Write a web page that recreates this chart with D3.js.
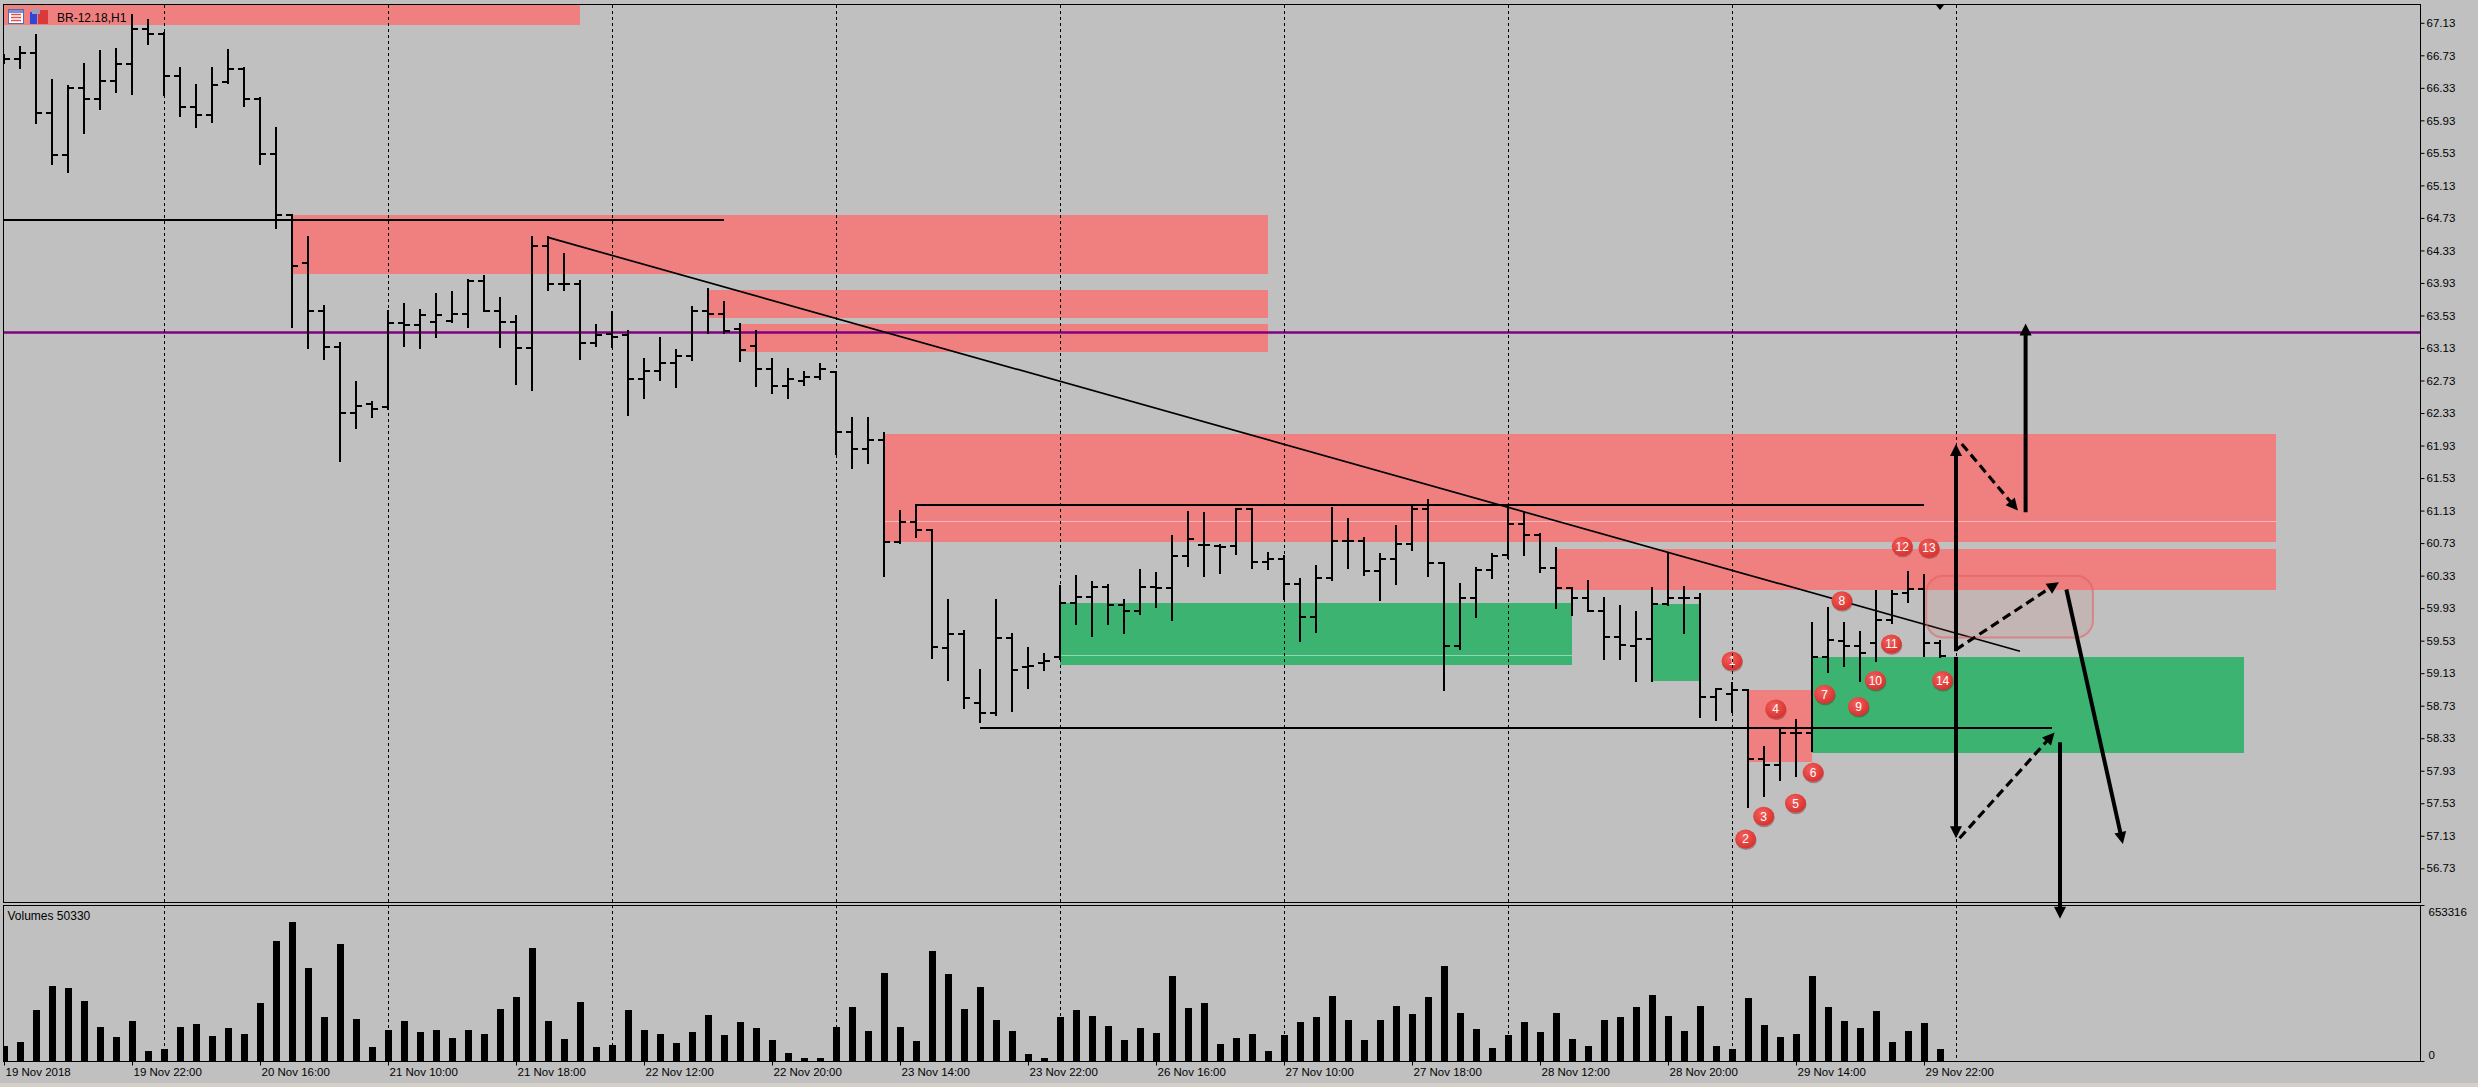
<!DOCTYPE html>
<html>
<head>
<meta charset="utf-8">
<script src="https://cdn.jsdelivr.net/npm/d3@7"></script>
<style>
html, body { margin: 0; padding: 0; background: #c0c0c0; overflow: hidden; }
svg { display: block; }
text { font-family: "Liberation Sans", Arial, sans-serif; }
</style>
</head>
<body>
<svg id="chart"></svg>
<script>
// BR-12.18 H1 bars, 19 Nov 14:00 .. 29 Nov 23:00
var opens = [
  66.69, 66.69, 66.76, 66.02, 65.50, 66.33, 66.19, 66.41, 66.62, 67.05,
  66.99, 66.47, 66.09, 65.99, 66.40, 66.56, 66.19, 65.52, 64.77, 64.18,
  63.59, 63.14, 62.33, 62.44, 62.40, 63.44, 63.41, 63.45, 63.46, 63.55,
  63.96, 63.59, 63.45, 63.13, 64.39, 63.92, 63.92, 63.19, 63.30, 63.29,
  62.75, 62.85, 62.94, 63.03, 63.59, 63.55, 63.36, 63.15, 62.87, 62.66,
  62.72, 62.77, 62.84, 62.10, 61.89, 62.00, 60.74, 60.99, 60.89, 59.44,
  59.61, 58.76, 58.64, 59.56, 59.21, 59.25, 59.33, 59.99, 60.07, 60.19,
  59.97, 59.89, 60.19, 60.18, 60.57, 60.71, 60.69, 60.69, 61.15, 60.50,
  60.53, 60.23, 59.82, 60.30, 60.75, 60.76, 60.39, 60.53, 60.72, 61.15,
  60.48, 59.47, 60.05, 60.40, 60.58, 60.96, 60.83, 60.42, 60.18, 60.06,
  59.90, 59.58, 59.47, 59.55, 59.98, 60.06, 60.06, 58.84, 58.88, 58.92,
  58.07, 58.00, 58.40, 58.40, 59.33, 59.52, 59.46, 59.50, 59.79, 60.12,
  60.17, 59.50
];
var highs = [
  66.74, 66.83, 66.98, 66.43, 66.35, 66.62, 66.78, 66.81, 67.23, 67.16,
  67.00, 66.58, 66.36, 66.57, 66.80, 66.57, 66.21, 65.83, 64.77, 64.50,
  63.65, 63.19, 62.71, 62.46, 63.59, 63.67, 63.60, 63.79, 63.82, 63.97,
  64.01, 63.74, 63.52, 64.50, 64.49, 64.28, 63.95, 63.41, 63.57, 63.34,
  62.99, 63.25, 63.10, 63.64, 63.85, 63.69, 63.43, 63.34, 62.99, 62.87,
  62.84, 62.93, 62.84, 62.27, 62.27, 62.08, 61.13, 61.20, 60.89, 60.03,
  59.65, 59.17, 60.03, 59.61, 59.44, 59.37, 60.20, 60.33, 60.25, 60.21,
  60.03, 60.40, 60.36, 60.82, 61.11, 61.10, 60.71, 61.15, 61.15, 60.61,
  60.57, 60.29, 60.45, 61.16, 61.03, 60.79, 60.59, 60.94, 61.17, 61.26,
  60.48, 60.23, 60.42, 60.59, 61.19, 61.10, 60.84, 60.67, 60.18, 60.26,
  60.06, 59.96, 59.88, 60.18, 60.61, 60.19, 60.10, 58.94, 59.01, 58.92,
  58.22, 58.43, 58.56, 59.75, 59.93, 59.75, 59.64, 60.14, 60.14, 60.38,
  60.34, 59.53
];
var lows = [
  66.64, 66.57, 65.90, 65.39, 65.29, 65.77, 66.07, 66.28, 66.25, 66.87,
  66.24, 65.98, 65.85, 65.91, 66.39, 66.11, 65.39, 64.60, 63.39, 63.13,
  63.00, 61.74, 62.14, 62.28, 62.38, 63.15, 63.13, 63.26, 63.45, 63.39,
  63.58, 63.14, 62.69, 62.61, 63.84, 63.84, 63.00, 63.16, 63.14, 62.31,
  62.51, 62.74, 62.65, 62.98, 63.32, 63.31, 62.97, 62.66, 62.58, 62.51,
  62.68, 62.75, 61.82, 61.65, 61.72, 60.33, 60.73, 60.81, 59.32, 59.05,
  58.70, 58.53, 58.62, 58.67, 58.95, 59.17, 59.30, 59.74, 59.59, 59.73,
  59.63, 59.86, 59.94, 59.79, 60.45, 60.32, 60.36, 60.60, 60.42, 60.41,
  60.04, 59.52, 59.64, 60.28, 60.42, 60.34, 60.03, 60.23, 60.65, 60.32,
  58.92, 59.43, 59.82, 60.30, 60.55, 60.58, 60.38, 59.93, 59.85, 59.90,
  59.30, 59.30, 59.04, 59.03, 59.97, 59.62, 58.59, 58.55, 58.65, 57.49,
  57.62, 57.82, 57.86, 58.17, 59.14, 59.22, 59.04, 59.28, 59.75, 60.00,
  59.34, 59.33
];
var closes = [
  66.69, 66.76, 66.02, 65.50, 66.33, 66.19, 66.41, 66.62, 67.05, 66.99,
  66.47, 66.09, 65.99, 66.36, 66.56, 66.19, 65.52, 64.77, 64.14, 63.59,
  63.14, 62.33, 62.42, 62.38, 63.44, 63.41, 63.53, 63.54, 63.55, 63.96,
  63.59, 63.45, 63.13, 64.39, 63.92, 63.92, 63.19, 63.29, 63.27, 62.75,
  62.85, 62.94, 63.03, 63.59, 63.55, 63.34, 63.11, 62.87, 62.66, 62.75,
  62.77, 62.87, 62.10, 61.89, 62.00, 60.74, 60.99, 60.89, 59.45, 59.61,
  58.82, 58.64, 59.56, 59.17, 59.22, 59.28, 59.99, 60.07, 60.19, 59.97,
  59.89, 60.19, 60.18, 60.57, 60.78, 60.71, 60.68, 61.15, 60.50, 60.53,
  60.23, 59.82, 60.30, 60.75, 60.76, 60.39, 60.53, 60.72, 61.15, 60.48,
  59.47, 60.05, 60.40, 60.57, 60.96, 60.83, 60.42, 60.18, 60.06, 59.90,
  59.58, 59.48, 59.55, 59.98, 60.06, 60.06, 58.84, 58.93, 58.92, 58.07,
  58.00, 58.40, 58.40, 59.33, 59.54, 59.46, 59.38, 59.79, 60.10, 60.17,
  59.50, 59.34
];
var volumes = [
  64000, 80000, 215000, 316000, 304000, 252000, 142000, 101000, 169000, 42000,
  50000, 144000, 157000, 105000, 138000, 113000, 244000, 504000, 582000, 391000,
  183000, 492000, 174000, 60000, 129000, 166000, 121000, 129000, 97000, 129000,
  113000, 219000, 268000, 473000, 166000, 93000, 248000, 60000, 68000, 215000,
  129000, 113000, 76000, 121000, 191000, 109000, 162000, 138000, 89000, 35000,
  11000, 11000, 142000, 228000, 125000, 367000, 142000, 85000, 461000, 363000,
  219000, 309000, 170000, 125000, 31000, 11000, 183000, 215000, 187000, 146000,
  89000, 138000, 117000, 354000, 224000, 244000, 72000, 97000, 113000, 40000,
  109000, 162000, 183000, 273000, 170000, 89000, 170000, 232000, 195000, 268000,
  399000, 199000, 134000, 56000, 109000, 162000, 121000, 199000, 93000, 64000,
  170000, 183000, 228000, 277000, 187000, 125000, 232000, 64000, 52000, 264000,
  150000, 101000, 113000, 358000, 228000, 166000, 138000, 211000, 80000, 125000,
  158000, 50330
];

var timeLabels = ["19 Nov 2018", "19 Nov 22:00", "20 Nov 16:00", "21 Nov 10:00",
  "21 Nov 18:00", "22 Nov 12:00", "22 Nov 20:00", "23 Nov 14:00", "23 Nov 22:00",
  "26 Nov 16:00", "27 Nov 10:00", "27 Nov 18:00", "28 Nov 12:00", "28 Nov 20:00",
  "29 Nov 14:00", "29 Nov 22:00"];
var labelBars = [0, 8, 16, 24, 32, 40, 48, 56, 64, 72, 80, 88, 96, 104, 112, 120];
var dayStarts = [10, 24, 38, 52, 66, 80, 94, 108, 122];
var priceTicks = [67.13, 66.73, 66.33, 65.93, 65.53, 65.13, 64.73, 64.33, 63.93,
  63.53, 63.13, 62.73, 62.33, 61.93, 61.53, 61.13, 60.73, 60.33, 59.93, 59.53,
  59.13, 58.73, 58.33, 57.93, 57.53, 57.13, 56.73];
var volumeTicks = [653316, 0];

// drawn objects: [bar from, bar to, price 1, price 2]
var redZones = [
  [-2, 36, 67.60, 67.11],
  [18, 79, 64.77, 64.04],
  [44, 79, 63.84, 63.49],
  [46, 79, 63.43, 63.09],
  [55, 142, 62.07, 60.74],
  [97, 142, 60.66, 60.16],
  [109, 113, 58.92, 58.04]
];
var greenZones = [
  [66, 98, 59.99, 59.23],
  [103, 106, 59.98, 59.03],
  [113, 140, 59.33, 58.15]
];
var zoneEdges = [[55, 142, 61.00], [66, 98, 59.35]]; // [bar from, bar to, price]
var purpleLevel = 63.32;
var blackLevels = [[-2, 45, 64.70], [57, 120, 61.20], [61, 128, 58.45]];
var trendLine = [34, 64.49, 126, 59.40]; // bar, price, bar, price

var markers = [
  ["1", 108.0, 59.28], ["2", 108.85, 57.09], ["3", 109.98, 57.37], ["4", 110.73, 58.69],
  ["5", 111.97, 57.53], ["6", 113.07, 57.91], ["7", 113.79, 58.87], ["8", 114.87, 60.02],
  ["9", 115.91, 58.72], ["10", 116.96, 59.04], ["11", 117.96, 59.49], ["12", 118.64, 60.69],
  ["13", 120.31, 60.67], ["14", 121.16, 59.04]
];
// [bar from, price from, bar to, price to]
var solidArrows = [
  [122.0, 59.40, 122.0, 61.95],
  [122.0, 59.33, 122.0, 57.10],
  [126.35, 61.11, 126.35, 63.43],
  [128.9, 60.16, 132.43, 57.03],
  [128.5, 58.28, 128.5, 56.11]
];
var dashedArrows = [
  [122.36, 61.95, 125.87, 61.13],
  [122.0, 59.42, 128.43, 60.25],
  [122.22, 57.10, 128.16, 58.40]
];
var roundBox = [120.14, 60.33, 130.56, 59.57];

var W = 2478, H = 1087;
var chartLeft = 3, chartRight = 2420, chartTop = 4, priceBottom = 902,
  volTop = 905, volBottom = 1061;

var x = d3.scaleLinear().domain([0, 1]).range([4, 20]);
var y = d3.scaleLinear().domain([56.73, 67.13]).range([868.3, 22.8]);
var yv = d3.scaleLinear().domain([0, 653316]).range([volBottom, volTop]);

var svg = d3.select("#chart").attr("width", W).attr("height", H);
var defs = svg.append("defs");

defs.append("clipPath").attr("id", "priceClip").append("rect")
  .attr("x", chartLeft + 1).attr("y", chartTop + 1)
  .attr("width", chartRight - chartLeft - 1).attr("height", priceBottom - chartTop - 1);
defs.append("clipPath").attr("id", "volClip").append("rect")
  .attr("x", chartLeft + 1).attr("y", volTop + 1)
  .attr("width", chartRight - chartLeft - 1).attr("height", volBottom - volTop - 1);

var grad = defs.append("radialGradient").attr("id", "ball")
  .attr("cx", "40%").attr("cy", "35%").attr("r", "65%");
grad.append("stop").attr("offset", "0%").attr("stop-color", "#f2605c");
grad.append("stop").attr("offset", "100%").attr("stop-color", "#d8322f");

svg.append("rect").attr("width", W).attr("height", H).attr("fill", "#c0c0c0");
svg.append("rect").attr("x", 0).attr("y", 1083).attr("width", W).attr("height", 4).attr("fill", "#d4d0c8");

var price = svg.append("g").attr("clip-path", "url(#priceClip)");

// zones
price.selectAll("rect.red").data(redZones).enter().append("rect")
  .attr("class", "red")
  .attr("x", function(d){ return x(d[0]); })
  .attr("width", function(d){ return x(d[1]) - x(d[0]); })
  .attr("y", function(d){ return Math.round(y(Math.max(d[2], d[3]))); })
  .attr("height", function(d){ return Math.round(Math.abs(y(d[3]) - y(d[2]))); })
  .attr("fill", "#f08080");
price.selectAll("rect.green").data(greenZones).enter().append("rect")
  .attr("class", "green")
  .attr("x", function(d){ return x(d[0]); })
  .attr("width", function(d){ return x(d[1]) - x(d[0]); })
  .attr("y", function(d){ return Math.round(y(Math.max(d[2], d[3]))); })
  .attr("height", function(d){ return Math.round(Math.abs(y(d[3]) - y(d[2]))); })
  .attr("fill", "#3cb371");
price.selectAll("line.edge").data(zoneEdges).enter().append("line")
  .attr("x1", function(d){ return x(d[0]); })
  .attr("x2", function(d){ return x(d[1]); })
  .attr("y1", function(d){ return Math.round(y(d[2])) + 0.5; })
  .attr("y2", function(d){ return Math.round(y(d[2])) + 0.5; })
  .attr("stroke", "rgba(255,255,255,0.45)").attr("stroke-width", 1);

// day separators in both panels
svg.append("g").selectAll("line").data(dayStarts).enter().append("line")
  .attr("x1", function(d){ return x(d) + 0.5; })
  .attr("x2", function(d){ return x(d) + 0.5; })
  .attr("y1", chartTop + 1).attr("y2", volBottom)
  .attr("stroke", "#000").attr("stroke-width", 1).attr("stroke-dasharray", "3,3");

// levels and trend line
price.append("line")
  .attr("x1", chartLeft).attr("x2", chartRight)
  .attr("y1", y(purpleLevel)).attr("y2", y(purpleLevel))
  .attr("stroke", "#800080").attr("stroke-width", 2.5);
price.selectAll("line.level").data(blackLevels).enter().append("line")
  .attr("x1", function(d){ return x(d[0]); })
  .attr("x2", function(d){ return x(d[1]); })
  .attr("y1", function(d){ return Math.round(y(d[2])); })
  .attr("y2", function(d){ return Math.round(y(d[2])); })
  .attr("stroke", "#000").attr("stroke-width", 2);
price.append("line")
  .attr("x1", x(trendLine[0])).attr("y1", y(trendLine[1]))
  .attr("x2", x(trendLine[2])).attr("y2", y(trendLine[3]))
  .attr("stroke", "#000").attr("stroke-width", 1.7);

// OHLC bars
price.selectAll("path.bar").data(opens).enter().append("path")
  .attr("d", function(o, i){
    var bx = x(i);
    return "M" + bx + "," + (Math.round(y(highs[i])) - 1) + "V" + (Math.round(y(lows[i])) + 1) +
      "M" + (bx - 6) + "," + Math.round(y(o)) + "H" + bx +
      "M" + bx + "," + Math.round(y(closes[i])) + "H" + (bx + 6);
  })
  .attr("fill", "none").attr("stroke", "#000").attr("stroke-width", 2);

// rounded target box
price.append("rect")
  .attr("x", x(roundBox[0])).attr("y", y(roundBox[1]))
  .attr("width", x(roundBox[2]) - x(roundBox[0]))
  .attr("height", y(roundBox[3]) - y(roundBox[1]))
  .attr("rx", 17).attr("ry", 17)
  .attr("fill", "rgba(232,110,110,0.12)")
  .attr("stroke", "rgba(226,92,92,0.55)").attr("stroke-width", 2);

// numbered balls
var balls = price.selectAll("g.ball").data(markers).enter().append("g")
  .attr("transform", function(d){ return "translate(" + x(d[1]) + "," + y(d[2]) + ")"; });
balls.append("ellipse").attr("cx", 0.5).attr("cy", 1.5).attr("rx", 10.5).attr("ry", 9.5)
  .attr("fill", "rgba(90,20,20,0.35)");
balls.append("ellipse").attr("rx", 10.5).attr("ry", 9.5).attr("fill", "url(#ball)");
balls.append("text").text(function(d){ return d[0]; })
  .attr("text-anchor", "middle").attr("dy", "0.36em")
  .attr("font-size", 12).attr("fill", "#fff");

// arrows (drawn over the panel divider, not clipped)
var arrows = svg.append("g");
function drawArrow(a, width, head, half, dash) {
  var x1 = x(a[0]), y1 = y(a[1]), x2 = x(a[2]), y2 = y(a[3]);
  var dx = x2 - x1, dy = y2 - y1, len = Math.sqrt(dx * dx + dy * dy);
  var ux = dx / len, uy = dy / len;
  var bx = x2 - ux * head, by = y2 - uy * head;
  arrows.append("line")
    .attr("x1", x1).attr("y1", y1).attr("x2", bx + ux * 2).attr("y2", by + uy * 2)
    .attr("stroke", "#000").attr("stroke-width", width)
    .attr("stroke-dasharray", dash || null);
  arrows.append("path")
    .attr("d", "M" + x2 + "," + y2 +
      "L" + (bx - uy * half) + "," + (by + ux * half) +
      "L" + (bx + uy * half) + "," + (by - ux * half) + "Z")
    .attr("fill", "#000");
}
solidArrows.forEach(function(a){ drawArrow(a, 4, 12, 6); });
dashedArrows.forEach(function(a){ drawArrow(a, 3.2, 12, 6, "9,5"); });

// volumes
svg.append("g").attr("clip-path", "url(#volClip)")
  .selectAll("rect").data(volumes).enter().append("rect")
  .attr("x", function(d, i){ return x(i) - 3; })
  .attr("width", 7)
  .attr("y", function(d){ return Math.round(yv(d)); })
  .attr("height", function(d){ return volBottom - Math.round(yv(d)); })
  .attr("fill", "#000");

// frames
svg.append("rect").attr("x", chartLeft + 0.5).attr("y", chartTop + 0.5)
  .attr("width", chartRight - chartLeft).attr("height", priceBottom - chartTop)
  .attr("fill", "none").attr("stroke", "#000");
svg.append("rect").attr("x", chartLeft + 0.5).attr("y", volTop + 0.5)
  .attr("width", chartRight - chartLeft).attr("height", volBottom - volTop)
  .attr("fill", "none").attr("stroke", "#000");

// shift marker at the top
svg.append("path")
  .attr("d", "M" + (x(121) - 4) + "," + (chartTop + 1) + "L" + (x(121) + 4) + "," + (chartTop + 1) +
    "L" + x(121) + "," + (chartTop + 6) + "Z")
  .attr("fill", "#000");

// price axis
var pAxis = svg.append("g").attr("transform", "translate(" + (chartRight + 0.5) + ",0)")
  .call(d3.axisRight(y).tickValues(priceTicks).tickSize(4).tickPadding(2)
    .tickFormat(d3.format(".2f")));
pAxis.select(".domain").remove();
pAxis.selectAll("line").attr("stroke", "#000");
pAxis.selectAll("text").attr("font-size", 11.5).attr("fill", "#000")
  .attr("font-family", "Liberation Sans, Arial, sans-serif");

// volume axis
var vAxis = svg.append("g").attr("transform", "translate(" + (chartRight + 0.5) + ",0)")
  .call(d3.axisRight(yv).tickValues(volumeTicks).tickSize(4).tickPadding(4)
    .tickFormat(d3.format("d")));
vAxis.select(".domain").remove();
vAxis.selectAll("line").attr("stroke", "#000");
vAxis.selectAll("text").attr("font-size", 11.5).attr("fill", "#000")
  .attr("font-family", "Liberation Sans, Arial, sans-serif")
  .attr("dy", function(d){ return d === 0 ? "-0.2em" : "0.95em"; });

// time axis
var tAxis = svg.append("g").attr("transform", "translate(0," + (volBottom + 0.5) + ")")
  .call(d3.axisBottom(x).tickValues(labelBars).tickSize(4).tickPadding(2)
    .tickFormat(function(d, i){ return timeLabels[i]; }));
tAxis.select(".domain").remove();
tAxis.selectAll("line").attr("stroke", "#000");
tAxis.selectAll("text").attr("font-size", 11.5).attr("fill", "#000")
  .attr("font-family", "Liberation Sans, Arial, sans-serif")
  .attr("text-anchor", "start").attr("x", 1);

// title with the two little window icons
var icon = svg.append("g");
icon.append("rect").attr("x", 8.5).attr("y", 9.5).attr("width", 15).attr("height", 14)
  .attr("fill", "#fff").attr("stroke", "#5a6aa8");
icon.append("rect").attr("x", 9).attr("y", 10).attr("width", 14).attr("height", 3).attr("fill", "#7b8fd0");
[14.5, 17.5, 20.5].forEach(function(v){
  icon.append("line").attr("x1", 11).attr("x2", 21).attr("y1", v).attr("y2", v)
    .attr("stroke", "#e05050").attr("stroke-width", 1.5);
});
icon.append("rect").attr("x", 30).attr("y", 12).attr("width", 7).attr("height", 12).attr("fill", "#2f47d8");
icon.append("rect").attr("x", 38).attr("y", 10).attr("width", 10).attr("height", 14).attr("fill", "#d83a3a");
icon.append("rect").attr("x", 32).attr("y", 9).attr("width", 8).attr("height", 5).attr("fill", "#9aa0b8");
svg.append("text").attr("x", 57).attr("y", 21.5).attr("font-size", 12).attr("fill", "#000")
  .text("BR-12.18,H1");
svg.append("text").attr("x", 7.5).attr("y", 919.5).attr("font-size", 12).attr("fill", "#000")
  .text("Volumes " + volumes[volumes.length - 1]);
</script>
</body>
</html>
